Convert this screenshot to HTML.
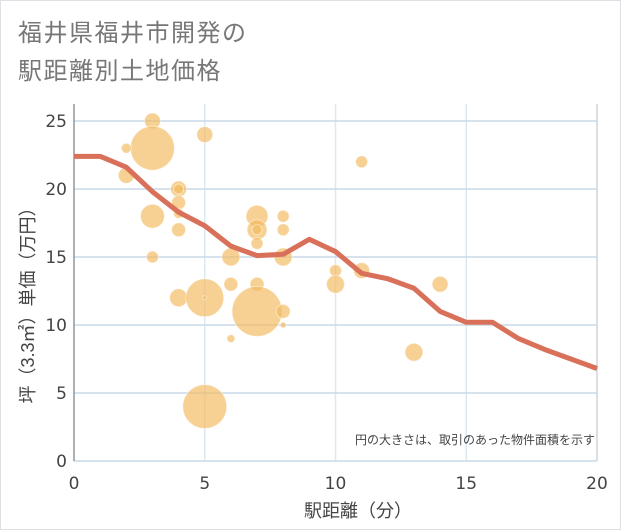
<!DOCTYPE html>
<html><head><meta charset="utf-8"><style>
html,body{margin:0;padding:0;background:#fff}
#wrap{position:relative;width:619px;height:528px;border:1px solid #dde0e4;background:#fff;font-family:"Liberation Sans","Noto Sans CJK JP",sans-serif;overflow:hidden}
#title{position:absolute;left:17px;top:14px;font-size:24px;line-height:38px;color:#777;letter-spacing:1.5px}
svg{position:absolute;left:0;top:0}
</style></head><body>
<div id="wrap">
<div id="title">福井県福井市開発の<br>駅距離別土地価格</div>
<svg id="chart" width="621" height="530"></svg>
</div>
<script>
const xTicks=[0,5,10,15,20];
const yTicks=[0,5,10,15,20,25];
const lineX=[0,1,2,3,4,5,6,7,8,9,10,11,12,13,14,15,16,17,18,19,20];
const lineY=[22.4,22.4,21.6,19.8,18.3,17.3,15.8,15.1,15.2,16.3,15.4,13.8,13.4,12.7,11,10.2,10.2,9,8.2,7.5,6.8];
const bubX=[3,3,2,2,5,4,4,4,4,3,4,3,4,5,5,6,6,6,7,7,7,7,7,7,8,8,8,8,8,5,11,10,10,11,13,14];
const bubY=[25,23,23,21,24,20,20,19,18.2,18,17,15,12,12,12,15,13,9,18,17,17,16,13,11,18,17,15,11,10,4,22,14,13,14,8,13];
const bubR=[8,22,5,8,8,8,5,7,5,12,7,6,9,19,2,9,7,4,11,10,5,6,7,25,6,6,9,7,3,22,6,6,9,8,9,8];
const NS="http://www.w3.org/2000/svg";
const svg=document.getElementById('chart');
const L=73,R=596,T=103,B=460;
const TF='"DejaVu Sans","Liberation Sans",sans-serif';
const sx=v=>L+(v-0)/(20-0)*(R-L);
const sy=v=>460-v*13.6;
function mk(t,a){const e=document.createElementNS(NS,t);for(const k in a)e.setAttribute(k,a[k]);svg.appendChild(e);return e;}
const bg=mk('rect',{x:L,y:T,width:R-L,height:B-T,fill:'#fff'});


xTicks.forEach(v=>{
 const g=mk('line',{x1:sx(v),x2:sx(v),y1:T,y2:B,stroke:'#dce8f2','stroke-width':1.5});
 
 
 const t=mk('text',{x:sx(v),y:488,'font-size':17,fill:'#444','text-anchor':'middle','font-family':TF});t.textContent=v;
 
 
});
yTicks.forEach(v=>{
 const g=mk('line',{x1:L,x2:R,y1:sy(v),y2:sy(v),stroke:'#c9d9e8','stroke-width':1.5});
 
 
 const t=mk('text',{x:66,y:sy(v)+6,'font-size':17,fill:'#444','text-anchor':'end','font-family':TF});t.textContent=v;
 
 
});
const ax=mk('line',{x1:L,x2:L,y1:T,y2:B,stroke:'#999','stroke-width':1.5});


const rb=mk('line',{x1:R,x2:R,y1:T,y2:B,stroke:'#ccc','stroke-width':1});


bubX.forEach((v,i)=>{
 const c=mk('circle',{cx:sx(v),cy:sy(bubY[i]),r:bubR[i],fill:'#f2b95a','fill-opacity':0.65,stroke:'#fff','stroke-opacity':0.5,'stroke-width':1});
 
 
});
const p=mk('polyline',{points:lineX.map((v,i)=>sx(v)+','+sy(lineY[i])).join(' '),fill:'none',stroke:'#d9705a','stroke-width':5,'stroke-linejoin':'round'});


const note=mk('text',{x:594,y:443,'font-size':12,fill:'#444','text-anchor':'end'});note.textContent='円の大きさは、取引のあった物件面積を示す';


const xt=mk('text',{x:357,y:516,'font-size':18,fill:'#444','text-anchor':'middle'});xt.textContent='駅距離（分）';


const yt=mk('text',{x:0,y:0,'font-size':18,fill:'#444','text-anchor':'middle',transform:'translate(33,300) rotate(-90)'});yt.textContent='坪（3.3㎡）単価（万円）';


</script>
</body></html>
